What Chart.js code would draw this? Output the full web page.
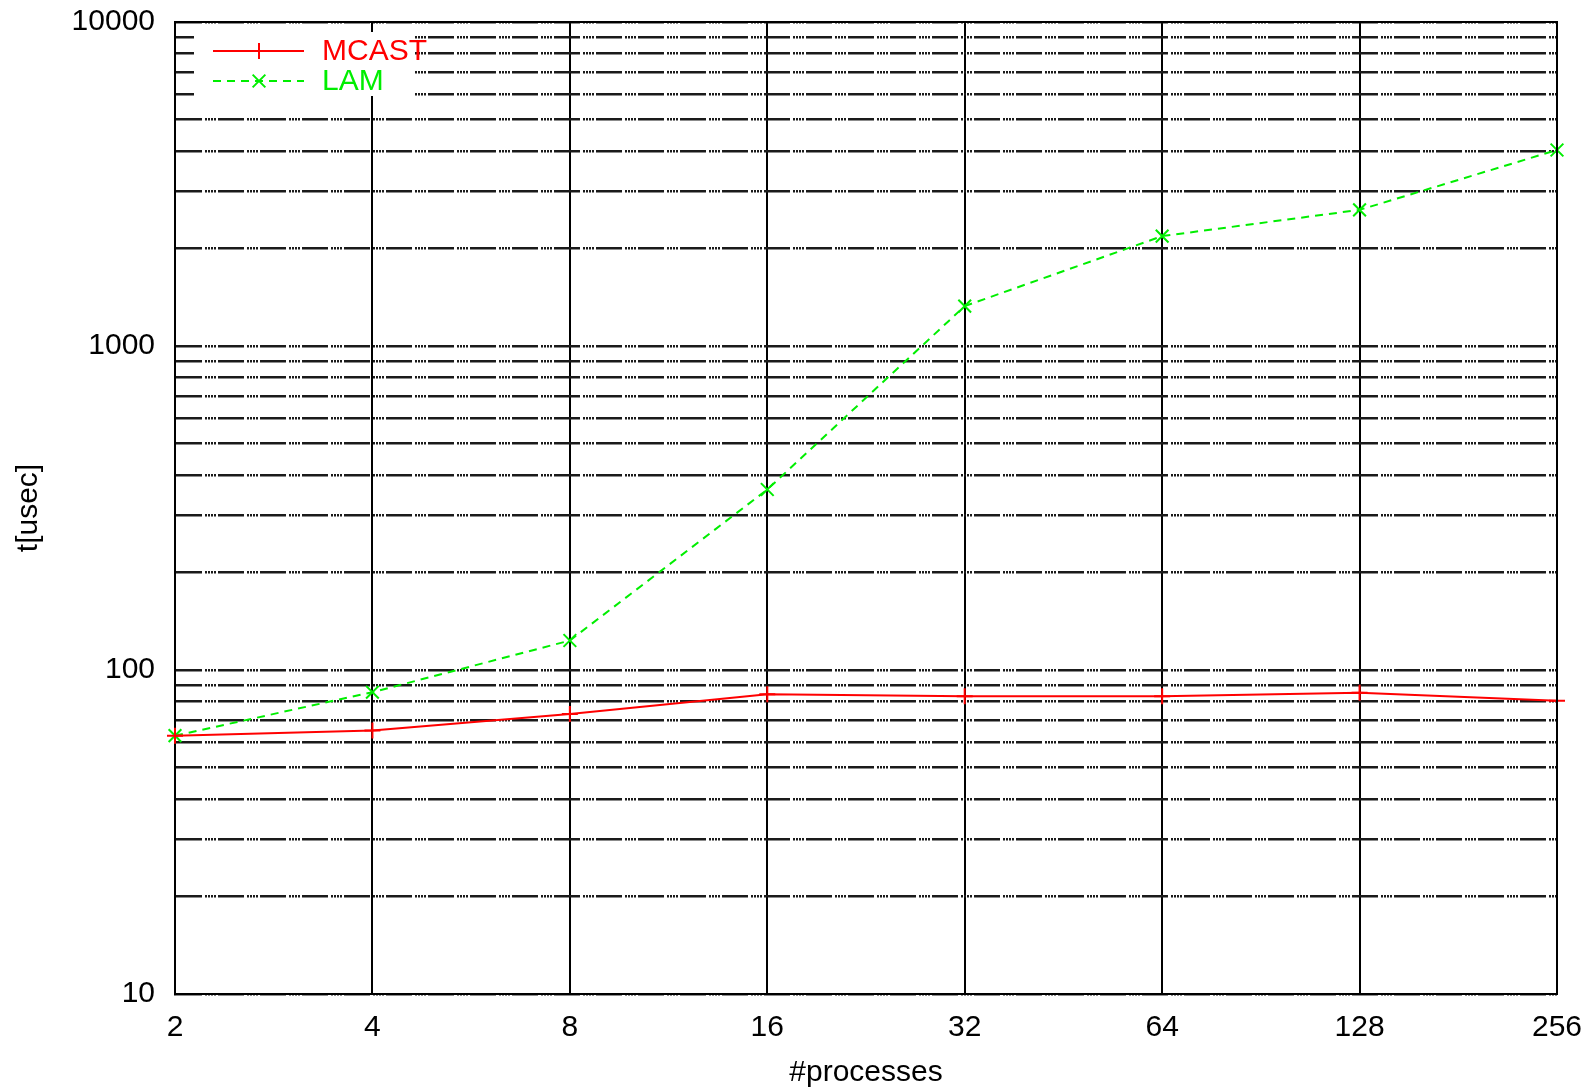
<!DOCTYPE html>
<html>
<head>
<meta charset="utf-8">
<title>MCAST vs LAM</title>
<script src="https://cdn.jsdelivr.net/npm/chart.js@4/dist/chart.umd.min.js"></script>
<style>
    html, body { margin: 0; padding: 0; background: #fff; }
    #wrap { width: 1589px; height: 1087px; }
</style>
</head>
<body>
<div id="wrap"><canvas id="chart" width="1589" height="1087"></canvas></div>
<script>
// datos
const procesos = [2, 4, 8, 16, 32, 64, 128, 256];
const mcast = [62.7, 65.0, 73.1, 84.1, 83.0, 83.0, 85.1, 80.4];
const lam = [62.7, 85.4, 123.3, 360.6, 1328, 2183, 2631, 4027];

// ticks del eje y (log)
const yEtiquetas = [10, 100, 1000, 10000];
const yGrid = [10, 20, 30, 40, 50, 60, 70, 80, 90,
    100, 200, 300, 400, 500, 600, 700, 800, 900,
    1000, 2000, 3000, 4000, 5000, 6000, 7000, 8000, 9000, 10000];

const FONT = "'Liberation Sans', Arial, Helvetica, sans-serif";
const fontPx = 30;

// dibuja borde superior/derecho y la leyenda estilo gnuplot
const marcoPlugin = {
    id: "marco",
    afterDraw(chart) {
        const { ctx, chartArea: a } = chart;
        ctx.save();
        ctx.strokeStyle = "#000";
        ctx.lineWidth = 2;
        ctx.beginPath();
        ctx.moveTo(a.left, a.top);
        ctx.lineTo(a.right, a.top);
        ctx.lineTo(a.right, a.bottom);
        ctx.stroke();

        // caja blanca de la leyenda
        ctx.fillStyle = "#fff";
        ctx.fillRect(194, 32, 220, 64);

        chart.data.datasets.forEach((ds, i) => {
            const y = 51 + i * 30;
            ctx.strokeStyle = ds.borderColor;
            ctx.lineWidth = ds.borderWidth;
            ctx.setLineDash(ds.borderDash || []);
            ctx.beginPath();
            ctx.moveTo(213, y);
            ctx.lineTo(304, y);
            ctx.stroke();
            ctx.setLineDash([]);
            Chart.helpers.drawPoint(ctx, {
                pointStyle: ds.pointStyle,
                radius: ds.pointRadius,
                rotation: 0,
                borderWidth: ds.pointBorderWidth
            }, 259, y);
            ctx.fillStyle = ds.borderColor;
            ctx.font = fontPx + "px " + FONT;
            ctx.textBaseline = "middle";
            ctx.textAlign = "left";
            ctx.fillText(ds.label, 322, y + 1);
        });
        ctx.restore();
    }
};

const ctx = document.getElementById("chart").getContext("2d");
new Chart(ctx, {
    type: "line",
    data: {
        datasets: [
            {
                label: "MCAST",
                data: procesos.map((p, i) => ({ x: p, y: mcast[i] })),
                borderColor: "#ff0000",
                backgroundColor: "#ff0000",
                borderWidth: 2,
                pointStyle: "cross",
                pointRadius: 8,
                pointBorderWidth: 2,
                pointBorderColor: "#ff0000",
                tension: 0,
                clip: false
            },
            {
                label: "LAM",
                data: procesos.map((p, i) => ({ x: p, y: lam[i] })),
                borderColor: "#00ee00",
                backgroundColor: "#00ee00",
                borderWidth: 2,
                borderDash: [8, 6],
                pointStyle: "crossRot",
                pointRadius: 9,
                pointBorderWidth: 2,
                pointBorderColor: "#00ee00",
                tension: 0,
                clip: false
            }
        ]
    },
    options: {
        responsive: false,
        animation: false,
        layout: { padding: { top: 22, right: 32, left: 0, bottom: 0 } },
        plugins: {
            legend: { display: false },
            tooltip: { enabled: false }
        },
        scales: {
            x: {
                type: "logarithmic",
                min: 2,
                max: 256,
                afterBuildTicks: (s) => { s.ticks = procesos.map((v) => ({ value: v })); },
                afterFit: (s) => {
                    s.height = 93;
                    s.paddingLeft = 0;
                    s.paddingRight = 0;
                },
                ticks: {
                    autoSkip: false,
                    maxRotation: 0,
                    padding: 16,
                    color: "#000",
                    font: { family: FONT, size: fontPx },
                    callback: (v) => String(v)
                },
                grid: { color: "#000", lineWidth: 2, drawTicks: false },
                border: { display: true, color: "#000", width: 2 },
                title: {
                    display: true,
                    text: "#processes",
                    color: "#000",
                    font: { family: FONT, size: fontPx, lineHeight: 0.95 },
                    padding: { top: 0, bottom: 0 }
                }
            },
            y: {
                type: "logarithmic",
                min: 10,
                max: 10000,
                afterBuildTicks: (s) => { s.ticks = yGrid.map((v) => ({ value: v })); },
                afterFit: (s) => {
                    s.width = 175;
                    s.paddingTop = 0;
                    s.paddingBottom = 0;
                },
                ticks: {
                    autoSkip: false,
                    padding: 20,
                    color: "#000",
                    font: { family: FONT, size: fontPx },
                    callback: (v) => (yEtiquetas.includes(v) ? String(v) : "")
                },
                grid: { color: "#1a1a1a", lineWidth: 2.4, drawTicks: false },
                border: { display: true, color: "#000", width: 2, dash: [26, 3, 2, 1, 2, 1, 2, 1, 2, 2] },
                title: {
                    display: true,
                    text: "t[usec]",
                    color: "#000",
                    font: { family: FONT, size: fontPx },
                    padding: { top: 11, bottom: 0 }
                }
            }
        }
    },
    plugins: [marcoPlugin]
});
</script>
</body>
</html>
